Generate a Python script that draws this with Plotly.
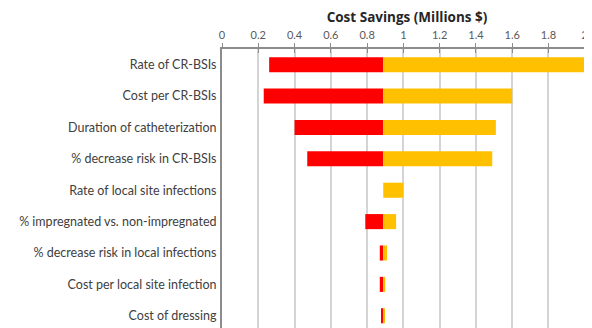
import plotly.graph_objects as go

categories = [
    "Rate of CR-BSIs",
    "Cost per CR-BSIs",
    "Duration of catheterization",
    "% decrease risk in CR-BSIs",
    "Rate of local site infections",
    "% impregnated vs. non-impregnated",
    "% decrease risk in local infections",
    "Cost per local site infection",
    "Cost of dressing",
]
base_value = 0.889
low_values = [0.26, 0.23, 0.40, 0.47, 0.889, 0.79, 0.87, 0.87, 0.88]
high_values = [2.06, 1.60, 1.51, 1.49, 1.00, 0.96, 0.91, 0.90, 0.895]
tick_vals = [0, 0.2, 0.4, 0.6, 0.8, 1.0, 1.2, 1.4, 1.6, 1.8, 2.0]
tick_text = ["0", "0.2", "0.4", "0.6", "0.8", "1", "1.2", "1.4", "1.6", "1.8", "2"]

red_len = [base_value - lo for lo in low_values]
yel_len = [hi - base_value for hi in high_values]

fig = go.Figure()
fig.add_trace(go.Bar(
    y=categories, x=red_len, base=low_values, orientation="h",
    marker=dict(color="#FF0000", line=dict(width=0)), width=0.48,
    showlegend=False, hoverinfo="skip",
))
fig.add_trace(go.Bar(
    y=categories, x=yel_len, base=[base_value] * len(categories), orientation="h",
    marker=dict(color="#FFC000", line=dict(width=0)), width=0.48,
    showlegend=False, hoverinfo="skip",
))
# invisible trace carrying the inward tick marks of the top axis
fig.add_trace(go.Scatter(
    x=[0], y=[categories[0]], xaxis="x2", mode="markers",
    marker=dict(opacity=0), showlegend=False, hoverinfo="skip",
))

# the page body adds an 8px offset, so the figure is 8px smaller on each side
fig.update_layout(
    width=584, height=320,
    margin=dict(l=214, r=0, t=41, b=0),
    paper_bgcolor="white", plot_bgcolor="white",
    barmode="overlay",
    font=dict(family="Lato, Open Sans, sans-serif", color="#404040", size=12),
    xaxis=dict(
        side="top", range=[0, 2.04], automargin=False,
        tickvals=tick_vals, ticktext=tick_text,
        showgrid=True, gridcolor="#d4d4d4", gridwidth=2,
        showline=True, linecolor="#8c8c8c", linewidth=2,
        ticks="outside", ticklen=4, tickcolor="#8c8c8c", tickwidth=1,
        tickfont=dict(size=11, color="#595959"),
        zeroline=False,
        title=dict(text="<b>Cost Savings (Millions $)</b>",
                   font=dict(family="Open Sans, sans-serif", size=13.5, color="#262626"), standoff=5),
    ),
    xaxis2=dict(
        overlaying="x", matches="x", side="top", range=[0, 2.04], automargin=False,
        tickvals=tick_vals, showticklabels=False, showgrid=False, zeroline=False,
        ticks="inside", ticklen=4, tickcolor="#8c8c8c", tickwidth=1, showline=False,
    ),
    yaxis=dict(
        range=[8.39, -0.5], automargin=False,
        showline=True, linecolor="#8c8c8c", linewidth=2,
        showgrid=False, ticks="", ticklabelstandoff=1,
        tickfont=dict(size=12.5, color="#404040"),
    ),
)

fig.write_html("out.html")
